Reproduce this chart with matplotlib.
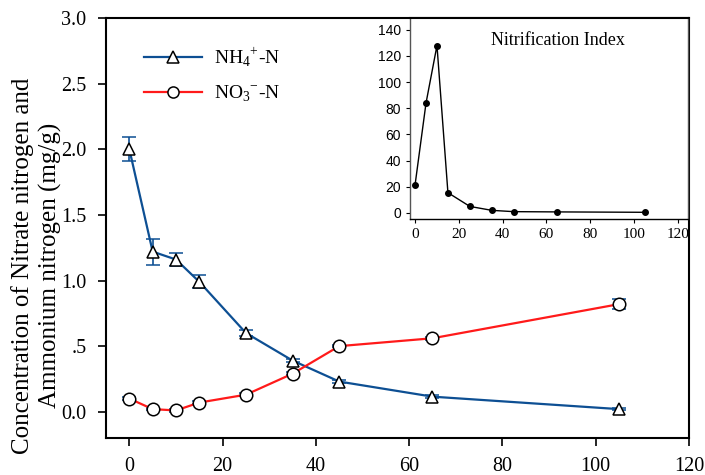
import matplotlib.pyplot as plt
from matplotlib.lines import Line2D

plt.rcParams['font.family'] = 'Liberation Serif'
plt.rcParams['mathtext.fontset'] = 'custom'
plt.rcParams['mathtext.rm'] = 'Liberation Serif'

days = [0, 5, 10, 15, 25, 35, 45, 65, 105]
nh4 = [2.00, 1.22, 1.16, 0.99, 0.60, 0.39, 0.23, 0.115, 0.02]
nh4_err = [0.09, 0.10, 0.05, 0.05, 0.02, 0.01, 0.01, 0.01, 0.01]
no3 = [0.10, 0.02, 0.01, 0.07, 0.13, 0.29, 0.50, 0.56, 0.82]
no3_err = [0.01, 0.01, 0.01, 0.01, 0.01, 0.01, 0.01, 0.01, 0.04]
nit_index = [21.5, 84, 128, 15.5, 5, 2, 1, 0.8, 0.5]

y_ticks = [0.0, 0.5, 1.0, 1.5, 2.0, 2.5, 3.0]
y_ticklabels = ['0.0', '.5', '1.0', '1.5', '2.0', '2.5', '3.0']

blue = '#0d4f93'
red = '#ff1a1a'

fig = plt.figure(figsize=(7.05, 4.75), dpi=100)
ax = fig.add_axes([0.1504, 0.0779, 0.8269, 0.8841])

ax.errorbar(days, nh4, yerr=nh4_err, color=blue, lw=1.6, ecolor=blue,
            elinewidth=1.2, capsize=5, capthick=1.2, marker='^', ms=9,
            mfc='white', mec='black', mew=1.1, zorder=3)
ax.errorbar(days, no3, yerr=no3_err, color=red, lw=1.6, ecolor=blue,
            elinewidth=1.2, capsize=5, capthick=1.2, marker='o', ms=9,
            mfc='white', mec='black', mew=1.1, zorder=3)

ax.set_xlim(-5, 120)
ax.set_ylim(-0.2, 3.0)
ax.set_xticks([0, 20, 40, 60, 80, 100, 120])
ax.set_yticks(y_ticks)
ax.set_yticklabels(y_ticklabels)
ax.tick_params(labelsize=14.5, direction='out', length=6, width=1.2, pad=8)
for s in ax.spines.values():
    s.set_linewidth(1.5)
ax.set_ylabel('Concentration of Nitrate nitrogen and\nAmmonium nitrogen (mg/g)',
              fontsize=18, linespacing=1.25)
ax.yaxis.set_label_coords(-0.076, 0.41)

handles = [
    Line2D([], [], color=blue, lw=1.6, marker='^', ms=8, mfc='white', mec='black', mew=1.1),
    Line2D([], [], color=red, lw=1.6, marker='o', ms=8, mfc='white', mec='black', mew=1.1),
]
ax.legend(handles, [r'NH$_4$$^{+}$-N', r'NO$_3$$^{-}$-N'], loc='upper left',
          bbox_to_anchor=(0.035, 0.975), frameon=False, fontsize=14,
          handlelength=3.0, labelspacing=0.75, handletextpad=0.6)

# inset with nitrification index
ins = fig.add_axes([0.5816, 0.539, 0.3943, 0.423])
ins.plot(days, nit_index, color='black', lw=1, marker='o', ms=4)
ins.set_xlim(-2.3, 124.6)
ins.set_ylim(-4.6, 149)
ins.set_xticks([0, 20, 40, 60, 80, 100, 120])
ins.set_yticks([0, 20, 40, 60, 80, 100, 120, 140])
ins.tick_params(labelsize=11, direction='out', length=3, width=0.8)
for lab in ins.get_yticklabels():
    lab.set_family('Liberation Sans')
    lab.set_fontsize(10)
for s in ins.spines.values():
    s.set_color('#555555')
    s.set_linewidth(1)
ins.spines['top'].set_color('black')
ins.spines['top'].set_linewidth(1.5)
ins.spines['bottom'].set_color('black')
ins.text(65, 131.5, 'Nitrification Index', ha='center', va='center', fontsize=13)

fig.savefig('out.png', dpi=100)
